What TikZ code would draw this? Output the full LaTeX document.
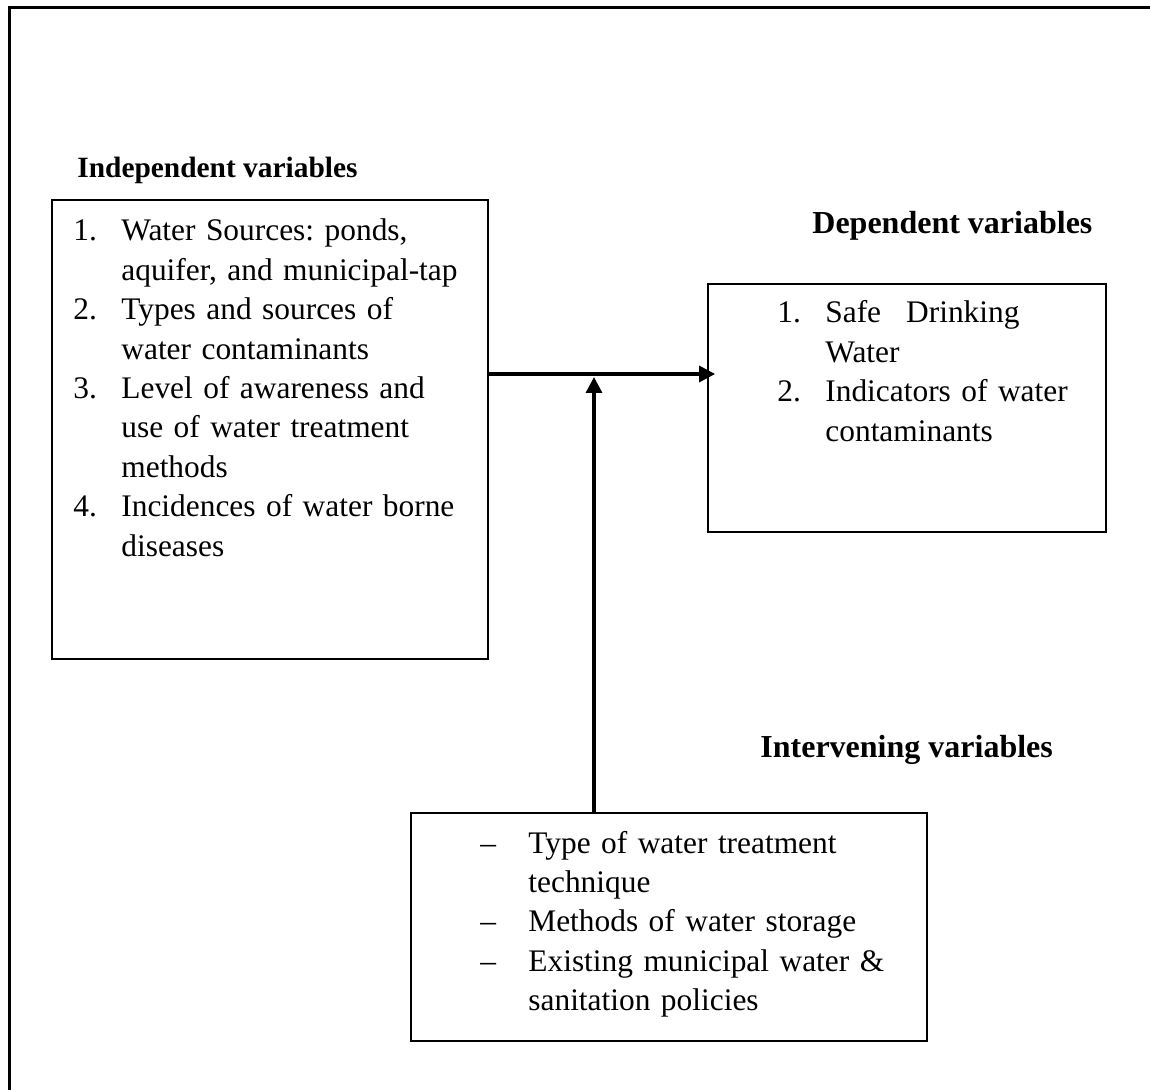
\documentclass[tikz,border=0pt]{standalone}
\usepackage{fontspec}
\setmainfont{Liberation Serif}
\usetikzlibrary{arrows.meta}
\newcommand{\nl}{\hfil\break}
\newcommand{\listitem}[2]{\rightskip=0pt plus 1fil\hangindent=24pt\hangafter=1\noindent\makebox[24pt][l]{#1}#2\par}
\begin{document}
\frenchspacing
\begin{tikzpicture}
  [x=0.5pt,y=-0.5pt,
   box/.style={draw,line width=0.9pt,inner sep=0pt},
   head/.style={anchor=base west,inner sep=0pt,font=\fontsize{16}{19.7}\selectfont\bfseries},
   list/.style={anchor=base west,inner sep=0pt,text width=215pt,font=\fontsize{15.7}{19.7}\selectfont},
   arr/.style={line width=1.6pt,-{Triangle[length=8pt,width=8pt]}}]
  \useasboundingbox (0,0) rectangle (1150,1090);
  \draw[line width=1.5pt] (9,1090) -- (9,8) -- (1150,8);

  \node[box,minimum width=218pt,minimum height=229.5pt] (indep) at (270,429.5) {};
  \node[box,minimum width=199pt,minimum height=124pt] (dep) at (907,408) {};
  \node[box,minimum width=258pt,minimum height=114pt] (interv) at (669,927) {};

  \node[head,font=\fontsize{14.7}{18}\selectfont\bfseries] (indephead) at (77,178) {Independent variables};
  \node[head] (dephead) at (812,234) {Dependent variables};
  \node[head] (intervhead) at (760,757) {Intervening variables};

  \node[list] (indeplist) at (73,241) {%
    \listitem{1.}{Water Sources: ponds,\nl aquifer, and municipal-tap}%
    \listitem{2.}{Types and sources of\nl water contaminants}%
    \listitem{3.}{Level of awareness and\nl use of water treatment\nl methods}%
    \listitem{4.}{Incidences of water borne\nl diseases}};
  \node[list] (deplist) at (777,323) {%
    \listitem{1.}{Safe\hspace{12.5pt}Drinking\nl Water}%
    \listitem{2.}{Indicators of water\nl contaminants}};
  \node[list] (intervlist) at (480,853) {%
    \listitem{\textendash}{Type of water treatment\nl technique}%
    \listitem{\textendash}{Methods of water storage}%
    \listitem{\textendash}{Existing municipal water \&\nl sanitation policies}};

  \coordinate (junc) at (594,374);
  \draw[arr,shorten >=-4pt] (indep.east |- junc) -- (dep.west |- junc);
  \draw[arr,shorten >=1.5pt] (interv.north -| junc) -- (junc);
\end{tikzpicture}
\end{document}
